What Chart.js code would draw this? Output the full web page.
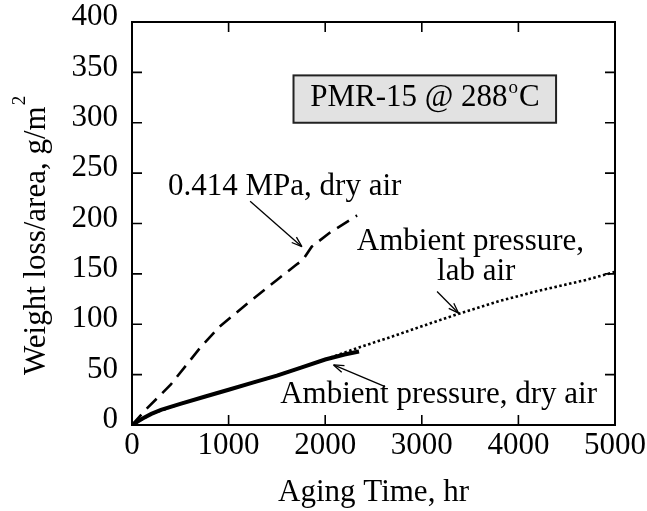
<!DOCTYPE html>
<html>
<head>
<meta charset="utf-8">
<script src="https://cdn.jsdelivr.net/npm/chart.js@4/dist/chart.umd.min.js"></script>
<style>
  html, body { margin: 0; padding: 0; background: #fff; }
  #wrap { width: 647px; height: 511px; }
</style>
</head>
<body>
<div id="wrap"><canvas id="chart" width="647" height="511"></canvas></div>
<script>
// PMR-15 weight loss per unit area during isothermal aging at 288 °C

// 0.414 MPa, dry air
const pressHours = [0, 150, 400, 700, 900, 1200, 1500, 1700, 1770, 1860, 2050, 2330];
const pressLoss  = [0, 16, 40, 76, 97, 121, 144, 159, 164, 177, 191, 208];

// Ambient pressure, lab air
const labHours = [0, 200, 500, 1000, 1500, 2000, 2350, 2700, 3000, 3400, 3800, 4200, 4700, 5000];
const labLoss  = [0, 11, 21, 35, 49, 65, 77, 88, 98, 111, 123, 133, 144, 152];

// Ambient pressure, dry air
const dryHours = [0, 100, 200, 300, 500, 750, 1000, 1250, 1500, 1750, 2000, 2200, 2350];
const dryLoss  = [0, 6, 11, 15, 21, 28, 35, 42, 49, 57, 65, 70, 73];

// Axis ticks
const xTicks = [0, 1000, 2000, 3000, 4000, 5000];
const yTicks = [0, 50, 100, 150, 200, 250, 300, 350, 400];

const SERIF = "'Liberation Serif', 'Times New Roman', serif";
const pairs = (xs, ys) => xs.map((x, i) => ({ x: x, y: ys[i] }));

// Callout labels and arrows, placed in data units
const callouts = [
  { text: '0.414 MPa, dry air', x: 373, y: 228.5, from: [1223, 222], to: [1759, 177] },
  { text: 'Ambient pressure,', x: 2327, y: 174 },
  { text: 'lab air', x: 3158, y: 144, from: [3158, 132.5], to: [3381, 111] },
  { text: 'Ambient pressure, dry air', x: 1534, y: 22, from: [2620, 38], to: [2086, 59.6] }
];

function arrow(ctx, x1, y1, x2, y2) {
  const a = Math.atan2(y2 - y1, x2 - x1);
  const len = 11, spread = 0.33;
  ctx.beginPath();
  ctx.moveTo(x1, y1);
  ctx.lineTo(x2, y2);
  ctx.stroke();
  ctx.beginPath();
  ctx.moveTo(x2, y2);
  ctx.lineTo(x2 - len * Math.cos(a - spread), y2 - len * Math.sin(a - spread));
  ctx.moveTo(x2, y2);
  ctx.lineTo(x2 - len * Math.cos(a + spread), y2 - len * Math.sin(a + spread));
  ctx.stroke();
}

const framePlugin = {
  id: 'frameAndNotes',
  afterDraw(chart) {
    const { ctx, chartArea: ca, scales } = chart;
    const sx = scales.x, sy = scales.y;
    ctx.save();
    ctx.strokeStyle = '#000';
    ctx.lineWidth = 2;
    ctx.strokeRect(ca.left, ca.top, ca.right - ca.left, ca.bottom - ca.top);

    // inward tick marks on all four sides
    const tl = 10;
    ctx.lineWidth = 1.6;
    ctx.beginPath();
    xTicks.forEach(v => {
      const px = sx.getPixelForValue(v);
      ctx.moveTo(px, ca.bottom); ctx.lineTo(px, ca.bottom - tl);
      ctx.moveTo(px, ca.top); ctx.lineTo(px, ca.top + tl);
    });
    yTicks.forEach(v => {
      const py = sy.getPixelForValue(v);
      ctx.moveTo(ca.left, py); ctx.lineTo(ca.left + tl, py);
      ctx.moveTo(ca.right, py); ctx.lineTo(ca.right - tl, py);
    });
    ctx.stroke();

    // y-axis title with raised exponent
    ctx.fillStyle = '#000';
    ctx.save();
    ctx.translate(45, 375);
    ctx.rotate(-Math.PI / 2);
    ctx.font = '31px ' + SERIF;
    ctx.textAlign = 'left';
    ctx.textBaseline = 'alphabetic';
    const main = 'Weight loss/area, g/m';
    ctx.fillText(main, 0, 0);
    const w = ctx.measureText(main).width;
    ctx.font = '19px ' + SERIF;
    ctx.fillText('2', w + 1, -20);
    ctx.restore();

    // boxed caption
    const bx1 = sx.getPixelForValue(1672), bx2 = sx.getPixelForValue(4390);
    const by1 = sy.getPixelForValue(347), by2 = sy.getPixelForValue(300);
    ctx.fillStyle = '#e2e2e2';
    ctx.fillRect(bx1, by1, bx2 - bx1, by2 - by1);
    ctx.lineWidth = 2;
    ctx.strokeStyle = '#222';
    ctx.strokeRect(bx1, by1, bx2 - bx1, by2 - by1);
    ctx.fillStyle = '#000';
    ctx.font = '31px ' + SERIF;
    ctx.textBaseline = 'alphabetic';
    ctx.textAlign = 'left';
    const tx = sx.getPixelForValue(1845), ty = sy.getPixelForValue(316.3);
    const part1 = 'PMR-15 @ 288';
    ctx.fillText(part1, tx, ty);
    let cx = tx + ctx.measureText(part1).width;
    ctx.font = '19px ' + SERIF;
    ctx.fillText('o', cx + 1, ty - 13);
    cx += ctx.measureText('o').width + 2;
    ctx.font = '31px ' + SERIF;
    ctx.fillText('C', cx, ty);

    // callouts
    ctx.lineWidth = 1.3;
    ctx.strokeStyle = '#000';
    callouts.forEach(c => {
      ctx.font = '31px ' + SERIF;
      ctx.fillText(c.text, sx.getPixelForValue(c.x), sy.getPixelForValue(c.y));
      if (c.from) {
        arrow(ctx, sx.getPixelForValue(c.from[0]), sy.getPixelForValue(c.from[1]),
                   sx.getPixelForValue(c.to[0]), sy.getPixelForValue(c.to[1]));
      }
    });
    ctx.restore();
  }
};

new Chart(document.getElementById('chart'), {
  type: 'line',
  data: {
    datasets: [
      {
        label: '0.414 MPa, dry air',
        data: pairs(pressHours, pressLoss),
        borderColor: '#000', borderWidth: 2.6, borderDash: [14, 8],
        pointRadius: 0, tension: 0, fill: false
      },
      {
        label: 'Ambient pressure, lab air',
        data: pairs(labHours, labLoss),
        borderColor: '#000', borderWidth: 2.6, borderDash: [2.5, 2.5],
        pointRadius: 0, tension: 0, fill: false
      },
      {
        label: 'Ambient pressure, dry air',
        data: pairs(dryHours, dryLoss),
        borderColor: '#000', borderWidth: 4,
        pointRadius: 0, tension: 0, fill: false
      }
    ]
  },
  options: {
    responsive: false,
    animation: false,
    layout: { padding: { left: 0, right: 32, top: 22, bottom: 0 } },
    plugins: { legend: { display: false }, tooltip: { enabled: false } },
    scales: {
      x: {
        type: 'linear', min: 0, max: 5000,
        afterBuildTicks: s => { s.ticks = xTicks.map(v => ({ value: v })); },
        ticks: { color: '#000', font: { family: SERIF, size: 31 }, padding: 2, maxRotation: 0,
                 callback: v => String(v) },
        grid: { display: false, drawTicks: false },
        border: { display: false },
        title: { display: true, text: 'Aging Time, hr', color: '#000',
                 font: { family: SERIF, size: 31 }, padding: { top: 0, bottom: 0 } },
        afterFit: s => { s.height = 86; s.paddingLeft = 0; s.paddingRight = 0; }
      },
      y: {
        type: 'linear', min: 0, max: 400,
        afterBuildTicks: s => { s.ticks = yTicks.map(v => ({ value: v })); },
        ticks: { color: '#000', font: { family: SERIF, size: 31 }, padding: 14, labelOffset: -5,
                 callback: v => String(v) },
        grid: { display: false, drawTicks: false },
        border: { display: false },
        afterFit: s => { s.width = 132; s.paddingTop = 0; s.paddingBottom = 0; }
      }
    }
  },
  plugins: [framePlugin]
});
</script>
</body>
</html>
